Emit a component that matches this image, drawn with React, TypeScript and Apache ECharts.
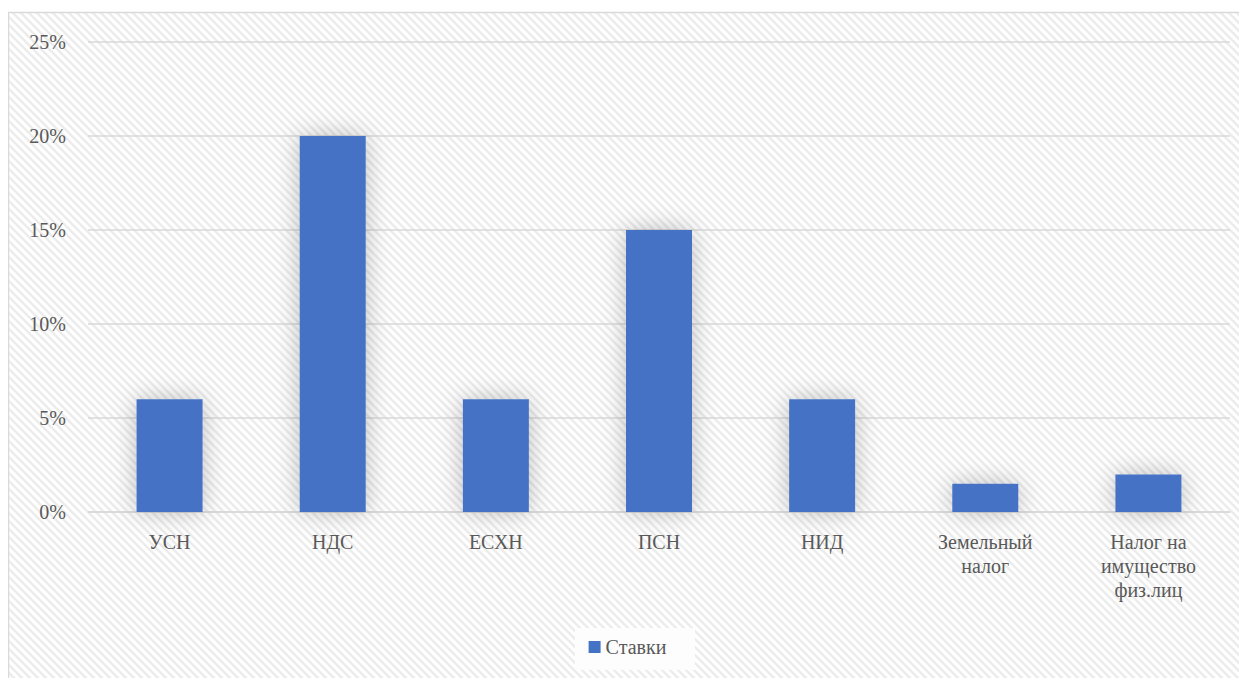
import React, { useEffect, useRef } from "react";
import * as echarts from "echarts";

const categories = ["УСН", "НДС", "ЕСХН", "ПСН", "НИД", "Земельный\nналог", "Налог на\nимущество\nфиз.лиц"];
const rates = [6, 20, 6, 15, 6, 1.5, 2];
const yTicks = [0, 5, 10, 15, 20, 25];
const seriesName = "Ставки";

function makeStripes(): HTMLCanvasElement {
  const c = document.createElement("canvas");
  const s = 8;
  c.width = s;
  c.height = s;
  const ctx = c.getContext("2d")!;
  ctx.fillStyle = "#ffffff";
  ctx.fillRect(0, 0, s, s);
  ctx.strokeStyle = "#ececec";
  ctx.lineWidth = 2.5;
  for (let k = -1; k <= 1; k++) {
    ctx.beginPath();
    ctx.moveTo(k * s - 1, -1);
    ctx.lineTo(k * s + s + 1, s + 1);
    ctx.stroke();
  }
  return c;
}

export default function App() {
  const ref = useRef<HTMLDivElement>(null);
  useEffect(() => {
    if (!ref.current) return;
    const chart = echarts.init(ref.current, undefined, { renderer: "svg" });
    const font = "Liberation Serif, Times New Roman, serif";
    const txt = { fontFamily: font, fontSize: 20, color: "#595959" };
    chart.setOption({
      animation: false,
      graphic: [
        {
          type: "rect",
          z: -10,
          silent: true,
          shape: { x: 0.5, y: 4.5, width: 1236, height: 670 },
          style: {
            fill: { image: makeStripes(), repeat: "repeat" } as any,
            stroke: "#d9d9d9",
            lineWidth: 1.5,
          },
        },
        {
          type: "rect",
          silent: true,
          z: -5,
          shape: { x: 567, y: 620, width: 120, height: 42 },
          style: { fill: "#fdfdfd" },
        },
      ],
      grid: { left: 80, right: 17, top: 34, bottom: 166 },
      legend: {
        bottom: 16,
        left: "center",
        itemWidth: 12,
        itemHeight: 12,
        icon: "rect",
        itemGap: 6,
        textStyle: { ...txt },
        data: [seriesName],
      },
      xAxis: {
        type: "category",
        data: categories,
        axisLine: { lineStyle: { color: "#d9d9d9", width: 1.5 } },
        axisTick: { show: false },
        axisLabel: { ...txt, margin: 18, lineHeight: 24, interval: 0 },
      },
      yAxis: {
        type: "value",
        min: yTicks[0],
        max: yTicks[yTicks.length - 1],
        interval: 5,
        axisLine: { show: false },
        axisTick: { show: false },
        axisLabel: { ...txt, formatter: "{value}%", margin: 22 },
        splitLine: { lineStyle: { color: "#d9d9d9", width: 1.5 } },
      },
      series: [
        {
          name: seriesName,
          type: "bar",
          data: rates,
          barWidth: 66,
          itemStyle: {
            color: "#4472c4",
            shadowBlur: 24,
            shadowColor: "rgba(0,0,0,0.25)",
          },
        },
      ],
    });
    return () => chart.dispose();
  }, []);
  return <div ref={ref} style={{ width: 1239, height: 670 }} />;
}
